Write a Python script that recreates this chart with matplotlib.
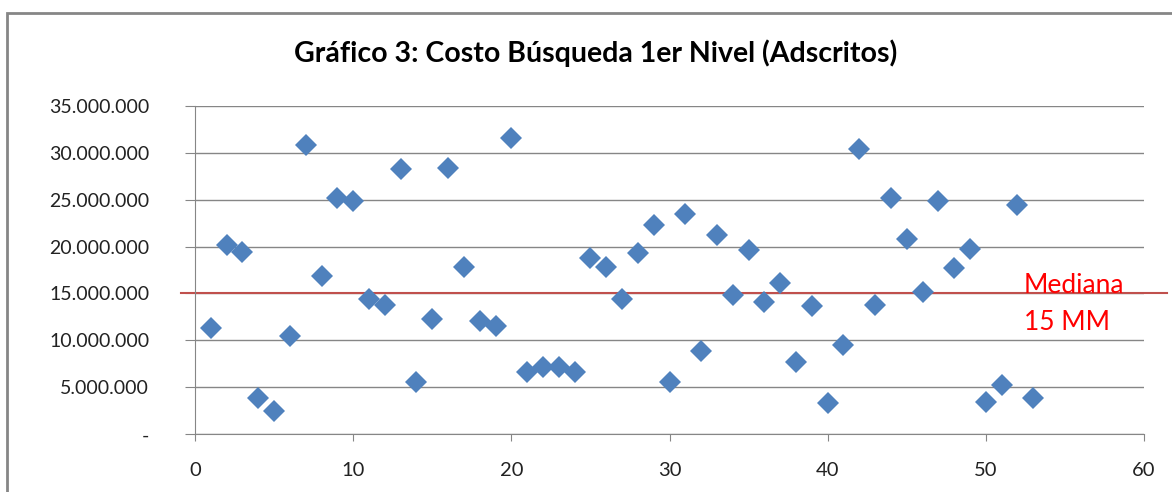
import numpy as np
import matplotlib.pyplot as plt
from matplotlib.patches import Rectangle
from matplotlib.ticker import FuncFormatter

# datos: costo de búsqueda por adscrito
n = list(range(1, 54))
costo = [11.3, 20.2, 19.4, 3.9, 2.5, 10.5, 30.8, 16.9, 25.2, 24.8,
         14.4, 13.8, 28.3, 5.6, 12.3, 28.4, 17.8, 12.1, 11.5, 31.6,
         6.6, 7.2, 7.2, 6.6, 18.8, 17.8, 14.4, 19.3, 22.3, 5.6,
         23.5, 8.9, 21.2, 14.8, 19.6, 14.1, 16.1, 7.7, 13.7, 3.3,
         9.5, 30.4, 13.8, 25.2, 20.8, 15.2, 24.9, 17.7, 19.7, 3.4,
         5.2, 24.4, 3.9]
costo = [c * 1e6 for c in costo]
mediana = 15e6

plt.rcParams['font.family'] = ['Lato', 'DejaVu Sans']

fig = plt.figure(figsize=(11.72, 4.92), dpi=100)
ax = fig.add_axes([0.1664, 0.1173, 0.8097, 0.6679])

ax.plot(n, costo, 'D', color='#4F81BD', markersize=11, markeredgewidth=0, zorder=3)
ax.axhline(mediana, xmin=-0.015, xmax=1.024, color='#C0504D', lw=1.5, clip_on=False, zorder=2)
ax.text(52.4, 15.05e6, 'Mediana', color='red', fontsize=19, va='baseline', ha='left')
ax.text(52.4, 11.1e6, '15 MM', color='red', fontsize=19, va='baseline', ha='left')

ax.set_xlim(0, 60)
ax.set_ylim(0, 35e6)
ax.set_xticks(range(0, 61, 10))
ax.set_yticks(np.arange(0, 35e6 + 1, 5e6))
ax.yaxis.set_major_formatter(FuncFormatter(
    lambda v, p: '-' if v == 0 else f'{int(v):,}'.replace(',', '.')))
ax.grid(axis='y', color='#868686', lw=1)
ax.set_axisbelow(True)
for s in ['top', 'right']:
    ax.spines[s].set_visible(False)
for s in ['left', 'bottom']:
    ax.spines[s].set_color('#868686')
ax.tick_params(axis='y', length=7, color='#868686', labelsize=14, pad=26, labelcolor='#222222')
ax.tick_params(axis='x', length=5, color='#868686', labelsize=14.5, pad=15, labelcolor='#222222')

fig.suptitle('Gráfico 3: Costo Búsqueda 1er Nivel (Adscritos)', x=0.508, y=0.92,
             fontsize=20.5, fontweight='bold')

fig.patches.append(Rectangle((7 / 1172, -0.1), 1.2, 1.1 - 13 / 492, fill=False,
                             edgecolor='#868686', lw=2, transform=fig.transFigure))

fig.savefig('out.png', dpi=100)
